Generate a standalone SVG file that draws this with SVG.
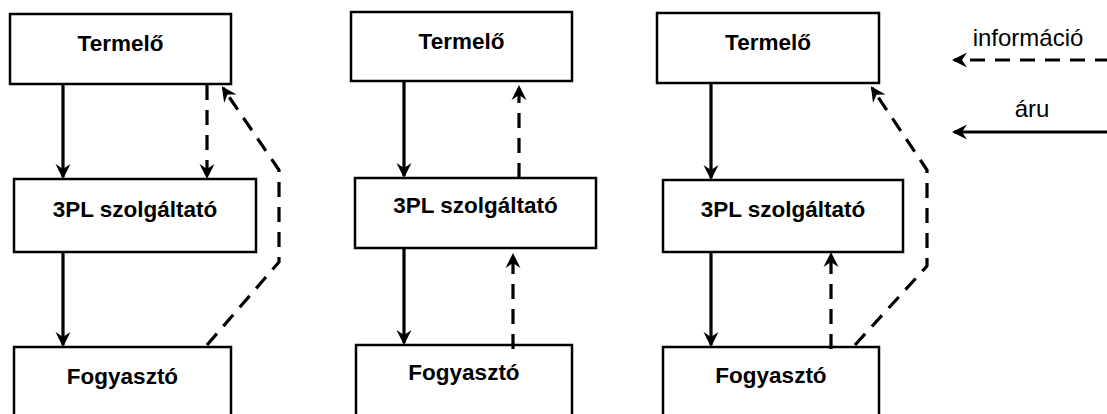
<svg xmlns="http://www.w3.org/2000/svg" width="1107" height="414" viewBox="0 0 1107 414">
<style>
.box{fill:#fff;stroke:#000;stroke-width:2.5}
.lbl{font-family:"Liberation Sans",Arial,sans-serif;font-weight:bold;font-size:22.5px;fill:#000;text-anchor:middle}
.leg{font-family:"Liberation Sans",Arial,sans-serif;font-size:24px;fill:#000;text-anchor:middle}
.solid{fill:none;stroke:#000;stroke-width:3.2;marker-end:url(#ah)}
.dash{fill:none;stroke:#000;stroke-width:3.2;stroke-dasharray:15 10;stroke-linejoin:round;marker-end:url(#ah)}
</style>
<defs>
<marker id="ah" markerUnits="userSpaceOnUse" viewBox="-16 -8 17 16" markerWidth="17" markerHeight="16" refX="-2" refY="0" orient="auto">
<path d="M0,0 L-15,-7.5 L-10,0 L-15,7.5 Z" fill="#000"/>
</marker>
</defs>
<rect width="1107" height="414" fill="#fff"/>
<g id="d1-termelo"><rect class="box" x="10" y="14" width="221" height="70"/><text class="lbl" x="120.5" y="51">Termelő</text></g>
<g id="d1-3pl"><rect class="box" x="14" y="179" width="242" height="73"/><text class="lbl" x="135" y="217">3PL szolgáltató</text></g>
<g id="d1-fogyaszto"><rect class="box" x="14" y="347" width="217" height="80"/><text class="lbl" x="122.5" y="384">Fogyasztó</text></g>
<g id="d2-termelo"><rect class="box" x="351" y="12" width="221" height="69"/><text class="lbl" x="461.5" y="49">Termelő</text></g>
<g id="d2-3pl"><rect class="box" x="355" y="178" width="241" height="70"/><text class="lbl" x="475.5" y="213">3PL szolgáltató</text></g>
<g id="d2-fogyaszto"><rect class="box" x="356" y="345" width="216" height="80"/><text class="lbl" x="464" y="380">Fogyasztó</text></g>
<g id="d3-termelo"><rect class="box" x="657" y="13" width="222" height="70"/><text class="lbl" x="768" y="50">Termelő</text></g>
<g id="d3-3pl"><rect class="box" x="663" y="180" width="240" height="72"/><text class="lbl" x="783" y="217">3PL szolgáltató</text></g>
<g id="d3-fogyaszto"><rect class="box" x="663" y="347" width="216" height="80"/><text class="lbl" x="771" y="383">Fogyasztó</text></g>
<g id="legend">
<text class="leg" x="1028" y="46">információ</text>
<text class="leg" x="1032" y="117">áru</text>
</g>
<g id="connectors">
<path class="solid" d="M63,85 L63,177"/>
<path class="dash" d="M207,85 L207,177"/>
<path class="dash" d="M207,345 L279,262 L279,170 L223,88"/>
<path class="solid" d="M63,253 L63,345"/>
<path class="solid" d="M404,82 L404,176"/>
<path class="dash" d="M519,178 L519,87"/>
<path class="solid" d="M404,249 L404,343"/>
<path class="dash" d="M513,349 L513,255"/>
<path class="solid" d="M711,84 L711,178"/>
<path class="solid" d="M711,253 L711,345"/>
<path class="dash" d="M831,349 L831,254"/>
<path class="dash" d="M855,345 L927,266 L927,170 L872,88"/>
<path class="dash" d="M1110,60 L954,60"/>
<path class="solid" d="M1110,132 L954,132"/>
</g>
</svg>
